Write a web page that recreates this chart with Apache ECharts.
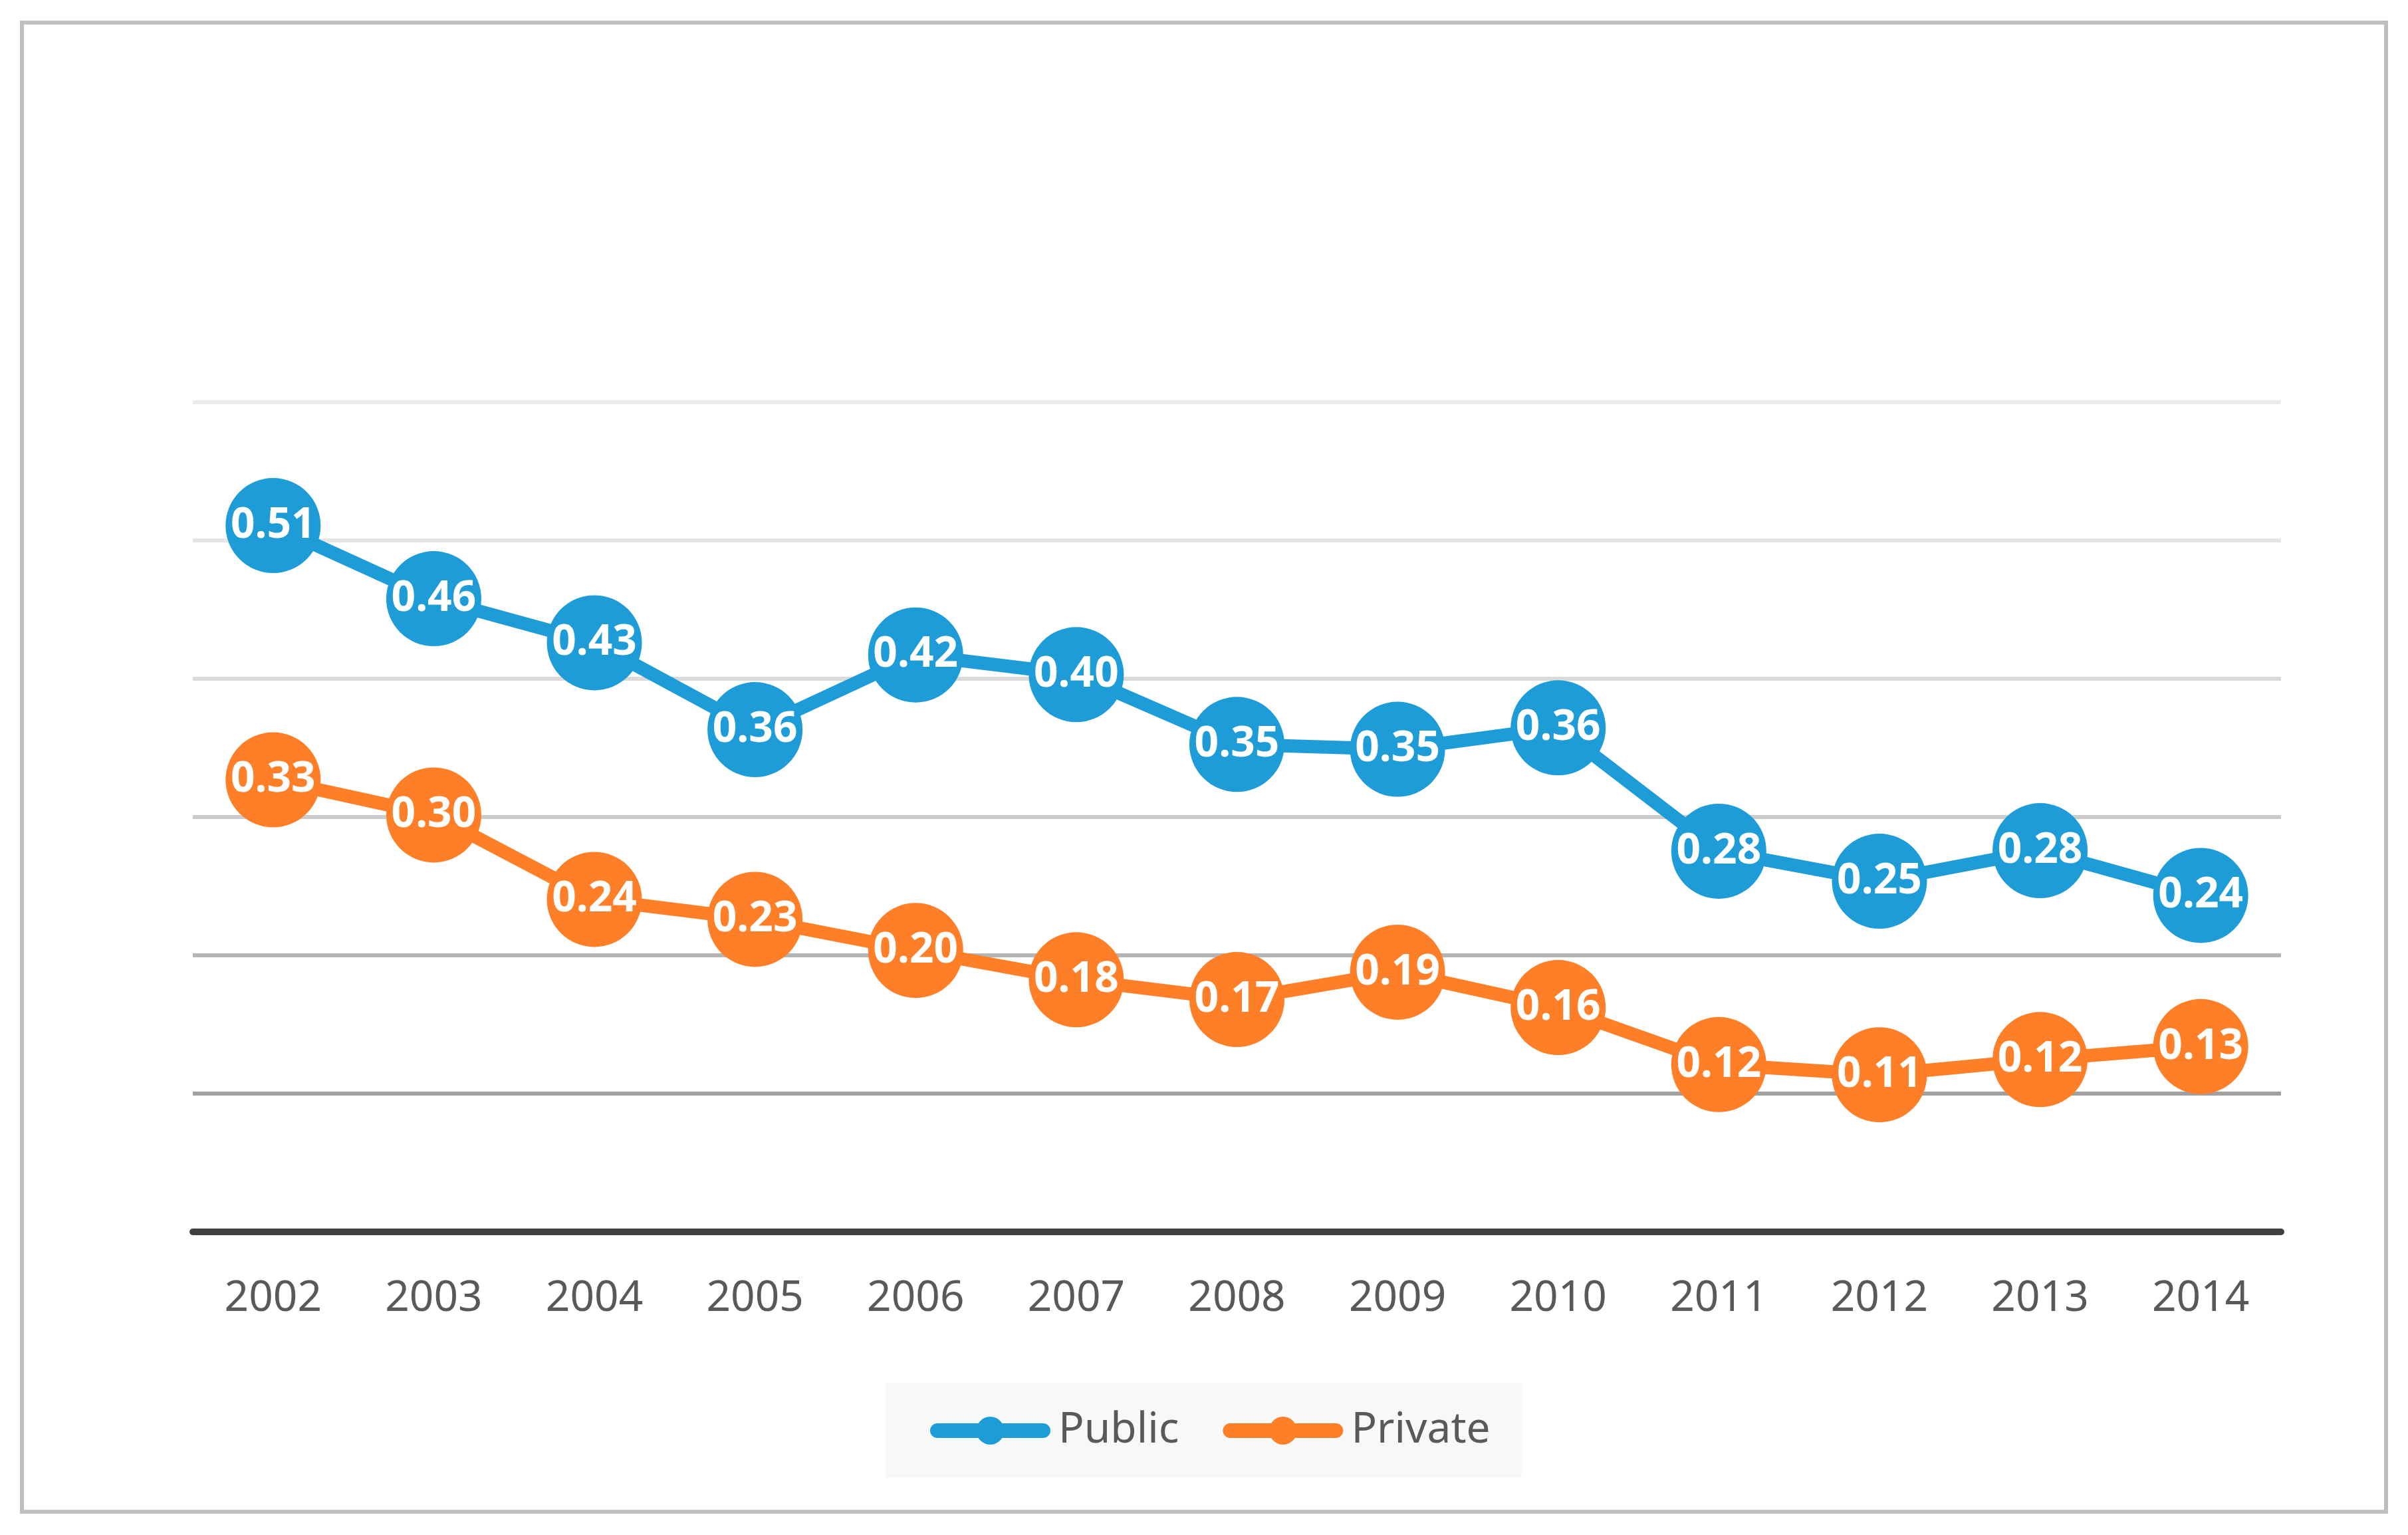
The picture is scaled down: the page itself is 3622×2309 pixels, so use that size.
<!DOCTYPE html>
<html>
<head>
<meta charset="utf-8">
<script src="https://cdn.jsdelivr.net/npm/echarts@6/dist/echarts.min.js"></script>
<style>
  html, body { margin: 0; padding: 0; background: #ffffff; }
  #chart { width: 3622px; height: 2309px; }
  #frame { position: absolute; left: 30px; top: 31px; width: 3550px; height: 2234px; border: 6px solid #bfbfbf; pointer-events: none; }
</style>
</head>
<body>
<div id="chart"></div>
<div id="frame"></div>
<script>
const years = ['2002','2003','2004','2005','2006','2007','2008','2009','2010','2011','2012','2013','2014'];
const publicValues = [0.5108, 0.4579, 0.426, 0.3632, 0.4172, 0.403, 0.3525, 0.349, 0.3645, 0.2753, 0.2536, 0.2757, 0.2433];
const privateValues = [0.3269, 0.3015, 0.2404, 0.226, 0.2035, 0.1823, 0.168, 0.1878, 0.1622, 0.121, 0.1136, 0.1246, 0.134];
const seriesNames = ['Public', 'Private'];

const blue = '#1e9cd7';
const orange = '#fe7f27';
const FONT = '"Noto Sans", "Open Sans", sans-serif';

// legend glyph: thick rounded line with a dot in the middle (181 x 42 box)
const legendIcon = 'path://M11,10 L170,10 A11,11 0 0,1 170,32 L11,32 A11,11 0 0,1 11,10 Z ' +
                   'M69.5,21 A21,21 0 1,1 111.5,21 A21,21 0 1,1 69.5,21 Z';

const chart = echarts.init(document.getElementById('chart'), null, { renderer: 'canvas' });

function makeSeries(name, values, color) {
  return {
    name: name,
    type: 'line',
    data: values,
    symbol: 'circle',
    symbolSize: 143,
    lineStyle: { color: color, width: 20 },
    itemStyle: { color: color },
    label: {
      show: true,
      position: 'inside',
      color: '#ffffff',
      fontFamily: FONT,
      fontWeight: 'bold',
      fontSize: 64,
      formatter: p => p.value.toFixed(2)
    },
    emphasis: { disabled: true }
  };
}

chart.setOption({
  animation: false,
  backgroundColor: '#ffffff',
  grid: { left: 290, right: 191, top: 605, bottom: 456, containLabel: false },
  xAxis: {
    type: 'category',
    data: years,
    boundaryGap: true,
    axisTick: { show: false },
    axisLine: { show: true, lineStyle: { color: '#404040', width: 10 } },
    axisLabel: { color: '#595959', fontFamily: FONT, fontSize: 64, margin: 69 },
    splitLine: { show: false }
  },
  yAxis: {
    type: 'value',
    min: 0,
    max: 0.6,
    interval: 0.1,
    axisLabel: { show: false },
    axisLine: { show: false },
    axisTick: { show: false },
    splitLine: {
      show: true,
      lineStyle: {
        width: 6,
        color: ['#a0a0a0', '#a0a0a0', '#b5b5b5', '#cbcbcb', '#dadada', '#e5e5e5', '#ebebeb']
      }
    }
  },
  legend: {
    data: seriesNames.map(n => ({ name: n, icon: legendIcon })),
    left: 1332,
    top: 2080,
    backgroundColor: '#f8f8f8',
    padding: [40, 47, 39, 67],
    itemWidth: 181,
    itemHeight: 42,
    itemGap: 66,
    symbolKeepAspect: true,
    textStyle: { color: '#595959', fontFamily: FONT, fontSize: 64, padding: [0, 0, 0, 7] }
  },
  series: [
    makeSeries(seriesNames[0], publicValues, blue),
    makeSeries(seriesNames[1], privateValues, orange)
  ]
});
</script>
</body>
</html>
